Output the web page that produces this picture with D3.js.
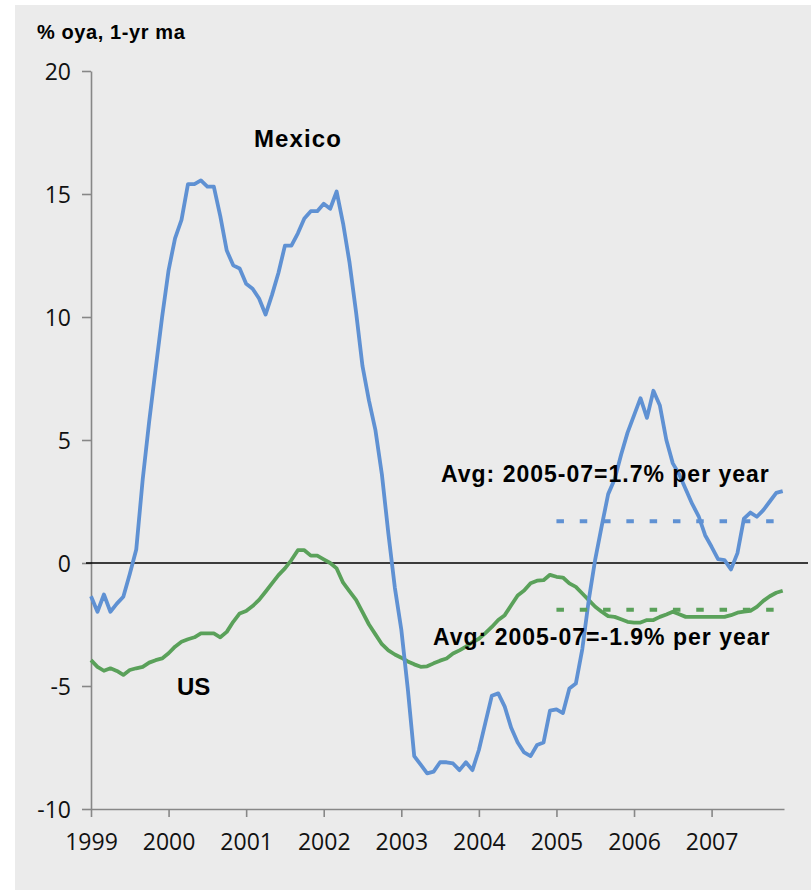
<!DOCTYPE html>
<html>
<head>
<meta charset="utf-8">
<script src="https://cdn.jsdelivr.net/npm/d3@7"></script>
<style>
  body { margin: 0; background: #fff; }
  .tick text { font-family: "Open Sans", sans-serif; font-size: 23px; fill: #111; }
  .lbl { font-family: "Liberation Sans", Arial, sans-serif; font-weight: bold; fill: #000; }
</style>
</head>
<body>
<div class="chart"></div>
<script>
var svgWidth = 811;
var svgHeight = 890;

// monthly, Jan 1999 .. Dec 2007
var years = ["1999", "2000", "2001", "2002", "2003", "2004", "2005", "2006", "2007"];

var mexico = [
  -1.35, -1.98, -1.28, -1.98, -1.65, -1.37, -0.45, 0.55, 3.4, 5.75, 7.9, 10.0,
  11.9, 13.2, 13.95, 15.4, 15.4, 15.55, 15.3, 15.3, 14.1, 12.7, 12.1, 11.97,
  11.35, 11.15, 10.75, 10.1, 10.9, 11.8, 12.9, 12.9, 13.4, 14.0, 14.3, 14.3,
  14.6, 14.4, 15.1, 13.8, 12.2, 10.2, 8.0, 6.6, 5.4, 3.6, 1.2, -1.0,
  -2.7, -5.1, -7.85, -8.2, -8.55, -8.48, -8.1, -8.1, -8.15, -8.42, -8.1, -8.42,
  -7.6, -6.5, -5.4, -5.3, -5.84, -6.7, -7.3, -7.7, -7.85, -7.4, -7.3, -6.0,
  -5.95, -6.1, -5.1, -4.9, -3.5, -1.5, 0.15, 1.5, 2.8, 3.4, 4.4, 5.3,
  6.0, 6.7, 5.9, 7.0, 6.4, 5.0, 4.05, 3.6, 3.0, 2.4, 1.9, 1.13,
  0.66, 0.16, 0.12, -0.26, 0.4, 1.8, 2.05, 1.88, 2.15, 2.5, 2.85, 2.92
];

var us = [
  -3.95, -4.22, -4.38, -4.28, -4.39, -4.55, -4.35, -4.28, -4.22, -4.05, -3.95, -3.88,
  -3.67, -3.4, -3.2, -3.1, -3.02, -2.86, -2.86, -2.86, -3.02, -2.8, -2.39, -2.05,
  -1.95, -1.75, -1.5, -1.17, -0.83, -0.49, -0.22, 0.12, 0.52, 0.52, 0.3, 0.3,
  0.15, 0.0, -0.22, -0.8, -1.15, -1.5, -2.0, -2.5, -2.9, -3.3, -3.55, -3.72,
  -3.85, -4.0, -4.12, -4.22, -4.2, -4.08, -3.97, -3.88, -3.68, -3.55, -3.4, -3.22,
  -3.08, -2.85, -2.6, -2.32, -2.12, -1.72, -1.32, -1.12, -0.82, -0.72, -0.7, -0.48,
  -0.56, -0.59, -0.83, -0.97, -1.24, -1.51, -1.78, -1.98, -2.16, -2.19, -2.29, -2.39,
  -2.42, -2.42, -2.32, -2.32, -2.19, -2.09, -1.98, -2.08, -2.19, -2.19, -2.19, -2.19,
  -2.19, -2.19, -2.19, -2.12, -2.02, -1.98, -1.95, -1.78, -1.54, -1.35, -1.21, -1.13
];

// 2005-07 averages
var avgMexico = 1.7;
var avgUS = -1.9;
var avgStart = 72, avgEnd = 106;

var yTicks = [-10, -5, 0, 5, 10, 15, 20];

var blue = "#5f91d3";
var green = "#5aa15a";

var svg = d3.select(".chart")
  .append("svg")
  .attr("width", svgWidth)
  .attr("height", svgHeight);

// grey panel
svg.append("rect")
  .attr("x", 15)
  .attr("y", 5)
  .attr("width", svgWidth - 15)
  .attr("height", svgHeight - 5)
  .attr("fill", "#ebebeb");

var xScale = d3.scaleLinear().domain([0, 107.2]).range([91, 784]);
var yScale = d3.scaleLinear().domain([-10, 20]).range([809, 71]);

// x axis at -10
var xAxis = d3.axisBottom(xScale)
  .tickValues(years.map((d, i) => i * 12))
  .tickFormat((d, i) => years[i])
  .tickSizeInner(8)
  .tickSizeOuter(0)
  .tickPadding(17);

var gx = svg.append("g")
  .attr("transform", `translate(0, ${yScale(-10)})`)
  .call(xAxis);

// plain hyphen for negatives, like the original
var yAxis = d3.axisLeft(yScale)
  .tickValues(yTicks)
  .tickFormat(d => String(d))
  .tickSizeInner(9)
  .tickSizeOuter(0)
  .tickPadding(11);

var gy = svg.append("g")
  .attr("transform", `translate(${xScale(0)}, 0)`)
  .call(yAxis);

svg.selectAll(".domain, .tick line")
  .attr("stroke", "#878787")
  .attr("stroke-width", 1.6);

gy.selectAll(".tick text").attr("dy", "0.36em");

// zero line
svg.append("line")
  .attr("x1", 86)
  .attr("x2", 808)
  .attr("y1", yScale(0))
  .attr("y2", yScale(0))
  .attr("stroke", "#000")
  .attr("stroke-width", 1.6);

var line = d3.line()
  .x((d, i) => xScale(i))
  .y(d => yScale(d));

svg.append("path")
  .datum(us)
  .attr("fill", "none")
  .attr("stroke", green)
  .attr("stroke-width", 3.8)
  .attr("stroke-linejoin", "round")
  .attr("d", line);

svg.append("path")
  .datum(mexico)
  .attr("fill", "none")
  .attr("stroke", blue)
  .attr("stroke-width", 3.8)
  .attr("stroke-linejoin", "round")
  .attr("d", line);

// dashed average lines
[[avgMexico, blue], [avgUS, green]].forEach(function (a) {
  svg.append("line")
    .attr("x1", xScale(avgStart))
    .attr("x2", xScale(avgEnd))
    .attr("y1", yScale(a[0]))
    .attr("y2", yScale(a[0]))
    .attr("stroke", a[1])
    .attr("stroke-width", 4)
    .attr("stroke-dasharray", "7.5 15.8");
});

// labels
svg.append("text")
  .attr("class", "lbl")
  .attr("x", 37)
  .attr("y", 39)
  .attr("font-size", "20px")
  .attr("letter-spacing", "0.6px")
  .text("% oya, 1-yr ma");

svg.append("text")
  .attr("class", "lbl")
  .attr("x", 254)
  .attr("y", 147)
  .attr("font-size", "24px")
  .attr("letter-spacing", "1.1px")
  .text("Mexico");

svg.append("text")
  .attr("class", "lbl")
  .attr("x", 177)
  .attr("y", 695)
  .attr("font-size", "24px")
  .text("US");

svg.append("text")
  .attr("class", "lbl")
  .attr("x", 441)
  .attr("y", 482)
  .attr("font-size", "23px")
  .attr("letter-spacing", "1px")
  .text("Avg: 2005-07=1.7% per year");

svg.append("text")
  .attr("class", "lbl")
  .attr("x", 433)
  .attr("y", 645)
  .attr("font-size", "23px")
  .attr("letter-spacing", "1px")
  .text("Avg: 2005-07=-1.9% per year");
</script>
</body>
</html>
